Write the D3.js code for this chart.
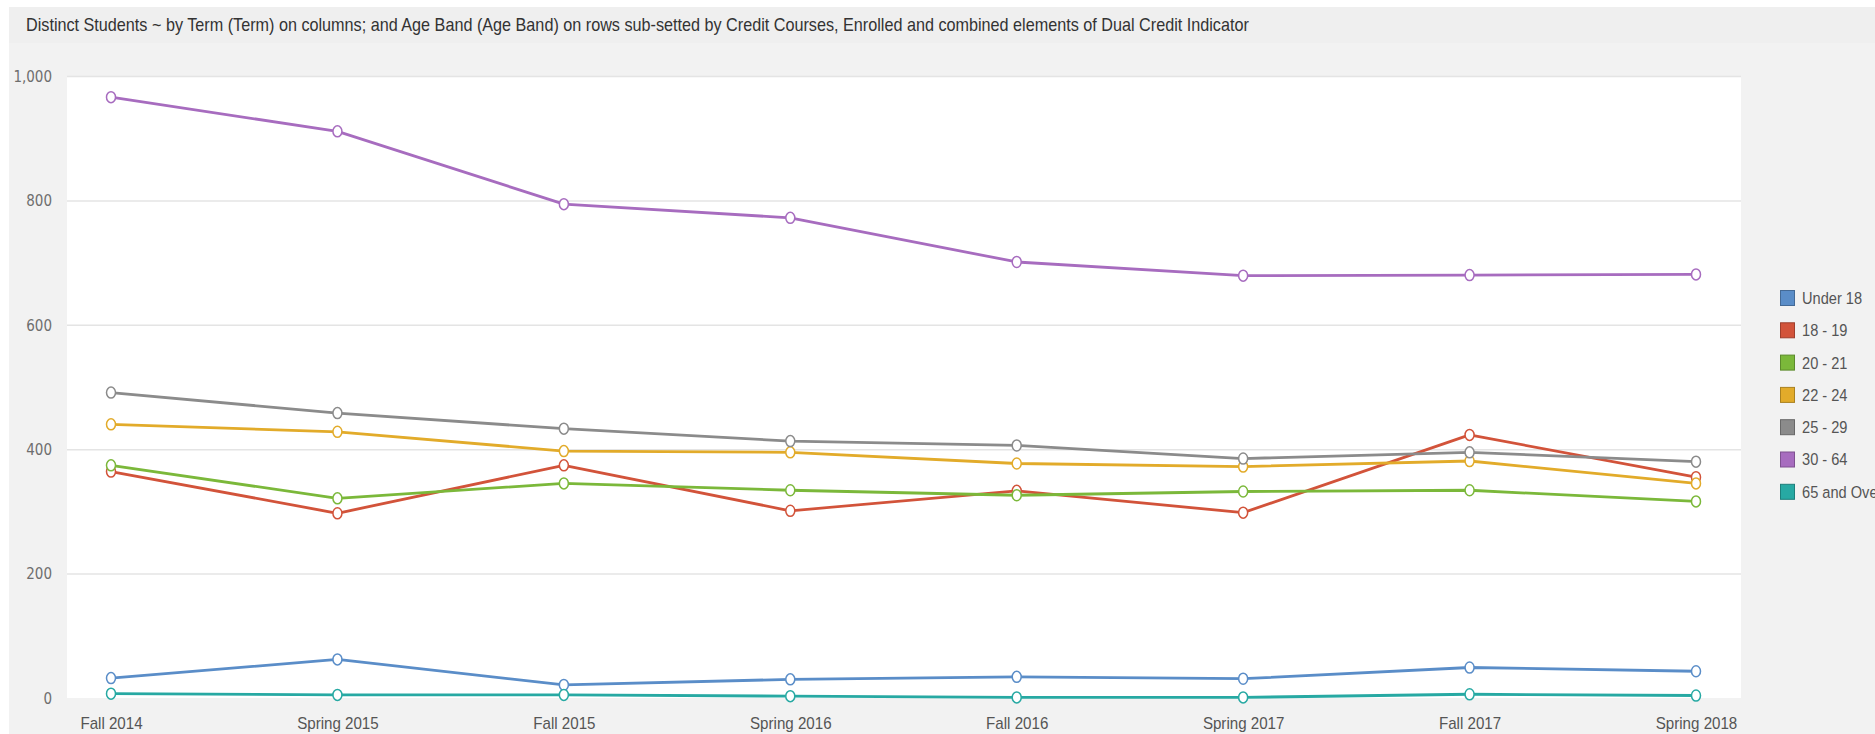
<!DOCTYPE html>
<html>
<head>
<meta charset="utf-8">
<script src="https://cdn.jsdelivr.net/npm/d3@7"></script>
<style>
  body { margin: 0; background: #fff; }
  svg { display: block; }
</style>
</head>
<body>
<div id="display"></div>
<script>
var terms = ["Fall 2014", "Spring 2015", "Fall 2015", "Spring 2016", "Fall 2016", "Spring 2017", "Fall 2017", "Spring 2018"]
var bands = ["Under 18", "18 - 19", "20 - 21", "22 - 24", "25 - 29", "30 - 64", "65 and Over"]
var under18 = [32, 62, 21, 30, 34, 31, 49, 43]
var age1819 = [364, 297, 374, 301, 333, 298, 423, 355]
var age2021 = [374, 321, 345, 334, 326, 332, 334, 316]
var age2224 = [440, 428, 397, 395, 377, 372, 381, 345]
var age2529 = [491, 458, 433, 413, 406, 385, 395, 380]
var age3064 = [966, 911, 794, 772, 701, 679, 680, 681]
var age65 = [7, 5, 5, 3, 1, 1, 6, 4]
var yTicks = [0, 200, 400, 600, 800, 1000]
var colors = ["#5a8dc8", "#d2533a", "#7bb83a", "#e2ab2a", "#8b8b8b", "#a76cbf", "#27a9a3"]
var title = "Distinct Students ~ by Term (Term) on columns; and Age Band (Age Band) on rows sub-setted by Credit Courses, Enrolled and combined elements of Dual Credit Indicator"

var seriesValues = [under18, age1819, age2021, age2224, age2529, age3064, age65]

var width = 1875, height = 734;
var plot = {left: 67, right: 1741, top: 76, bottom: 698};
var font = "'Liberation Sans', Arial, sans-serif";

var svg = d3.select("#display")
    .append("svg")
    .attr("width", width)
    .attr("height", height);

// page background
svg.append("rect")
    .attr("x", 9).attr("y", 7)
    .attr("width", width - 9).attr("height", height - 7)
    .attr("fill", "#f2f2f2");

svg.append("rect")
    .attr("x", 9).attr("y", 7)
    .attr("width", width - 9).attr("height", 36)
    .attr("fill", "#efefef");

// title is condensed in the original, squeeze it horizontally
svg.append("text")
    .attr("transform", "translate(26,31) scale(0.9,1)")
    .attr("fill", "#333")
    .style("font", "18px " + font)
    .text(title);

svg.append("rect")
    .attr("x", plot.left).attr("y", plot.top)
    .attr("width", plot.right - plot.left)
    .attr("height", plot.bottom - plot.top)
    .attr("fill", "#fff");

var x = d3.scalePoint()
    .domain(terms)
    .range([plot.left + 44, plot.right - 45]);

var y = d3.scaleLinear()
    .domain([0, 1000])
    .range([plot.bottom, plot.top]);

// gridlines
svg.append("g")
  .selectAll("line")
  .data(yTicks.filter(d => d > 0))
  .join("line")
    .attr("x1", plot.left)
    .attr("x2", plot.right)
    .attr("y1", d => y(d) + 0.5)
    .attr("y2", d => y(d) + 0.5)
    .attr("stroke", "#e4e4e4")
    .attr("stroke-width", 1.5);

var yAxis = g => g
    .attr("transform", `translate(${plot.left - 12},0)`)
    .call(d3.axisLeft(y).tickValues(yTicks).tickFormat(d3.format(",")).tickSize(0))
    .call(g => g.select(".domain").remove())
    .call(g => g.selectAll("text")
        .attr("fill", "#6e6e6e")
        .attr("dy", "0.35em")
        .style("font", "15px 'DejaVu Sans Condensed', sans-serif"));

var xAxis = g => g
    .attr("transform", `translate(0,${plot.bottom + 16})`)
    .call(d3.axisBottom(x).tickSize(0))
    .call(g => g.select(".domain").remove())
    .call(g => g.selectAll("text")
        .attr("fill", "#555")
        .attr("dy", "0.71em")
        .attr("transform", "scale(0.89,1)")
        .style("font", "17px " + font));

svg.append("g").call(yAxis);
svg.append("g").call(xAxis);

var line = d3.line()
    .x((d, i) => x(terms[i]))
    .y(d => y(d));

var series = svg.append("g")
  .selectAll("g")
  .data(seriesValues)
  .join("g");

series.append("path")
    .attr("d", d => line(d))
    .attr("fill", "none")
    .attr("stroke", (d, i) => colors[i])
    .attr("stroke-width", 2.8)
    .attr("stroke-linejoin", "round");

series.each(function(vals, i) {
  d3.select(this).selectAll("ellipse")
    .data(vals)
    .join("ellipse")
      .attr("cx", (d, j) => x(terms[j]))
      .attr("cy", d => y(d))
      .attr("rx", 4.5)
      .attr("ry", 5.5)
      .attr("fill", "#fff")
      .attr("stroke", colors[i])
      .attr("stroke-width", 1.5);
});

// legend (clipped at the right edge, as in the original)
var legend = svg.append("g")
  .selectAll("g")
  .data(bands)
  .join("g")
    .attr("transform", (d, i) => `translate(1780,${298 + i * 32.3})`);

legend.append("rect")
    .attr("x", 0.5).attr("y", -7.5)
    .attr("width", 14).attr("height", 15)
    .attr("fill", (d, i) => colors[i])
    .attr("stroke", (d, i) => d3.color(colors[i]).darker(0.8))
    .attr("stroke-width", 1);

legend.append("text")
    .attr("transform", "translate(22,0) scale(0.86,1)")
    .attr("dy", "0.35em")
    .attr("fill", "#555")
    .style("font", "17px " + font)
    .text(d => d);
</script>
</body>
</html>
